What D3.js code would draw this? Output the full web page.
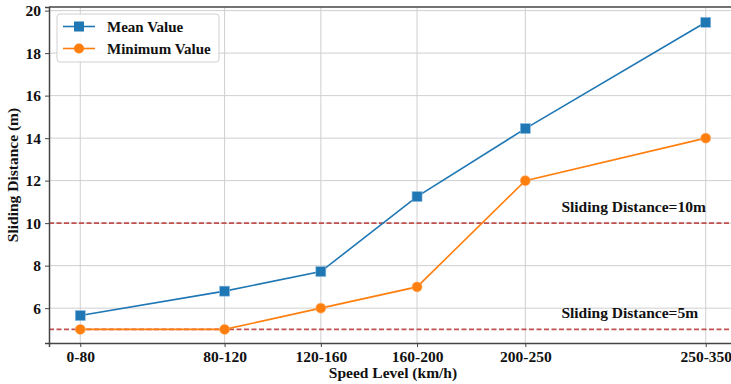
<!DOCTYPE html>
<html>
<head>
<meta charset="utf-8">
<script src="https://cdn.jsdelivr.net/npm/d3@7"></script>
<style>
  body { margin: 0; background: #fff; }
  svg { display: block; font-family: "Liberation Serif", "Times New Roman", serif; font-weight: bold; }
</style>
</head>
<body>
<svg id="chart"></svg>
<script>
// speed bands, placed at their midpoints
const categories = ['0-80', '80-120', '120-160', '160-200', '200-250', '250-350'];
const midpoints = [40, 100, 140, 180, 225, 300];
const meanValues = [5.65, 6.8, 7.72, 11.25, 14.45, 19.45];
const minValues = [5, 5, 6, 7, 12, 14];
const yTicks = [6, 8, 10, 12, 14, 16, 18, 20];
const refLines = [
  { value: 10, label: 'Sliding Distance=10m' },
  { value: 5, label: 'Sliding Distance=5m' }
];

const width = 731, height = 384;
const margin = { top: 7, right: -6, bottom: 41, left: 49 };

const svg = d3.select('#chart').attr('width', width).attr('height', height);

const x = d3.scaleLinear()
  .domain([27, 313])
  .range([margin.left, width - margin.right]);

const y = d3.scaleLinear()
  .domain([4.36, 20.17])
  .range([height - margin.bottom, margin.top]);

const plot = svg.append('g');

// grid
plot.append('g').selectAll('line').data(yTicks).join('line')
  .attr('x1', margin.left).attr('x2', width - margin.right)
  .attr('y1', d => y(d)).attr('y2', d => y(d))
  .attr('stroke', '#cfcfcf').attr('stroke-width', 1);
plot.append('g').selectAll('line').data(midpoints).join('line')
  .attr('x1', d => x(d)).attr('x2', d => x(d))
  .attr('y1', margin.top).attr('y2', height - margin.bottom)
  .attr('stroke', '#cfcfcf').attr('stroke-width', 1);

// reference lines
refLines.forEach(r => {
  plot.append('line')
    .attr('x1', margin.left).attr('x2', width - margin.right)
    .attr('y1', y(r.value)).attr('y2', y(r.value))
    .attr('stroke', '#c0504d').attr('stroke-width', 1.6)
    .attr('stroke-dasharray', '5,2.5');
  plot.append('text')
    .attr('x', x(240)).attr('y', y(r.value) - 11)
    .attr('font-size', 15.5).attr('fill', '#111')
    .text(r.label);
});

// axes
const xAxis = g => g
  .attr('transform', `translate(0,${height - margin.bottom})`)
  .call(d3.axisBottom(x).tickValues(midpoints).tickFormat((d, i) => categories[i]).tickSize(4).tickPadding(4))
  .call(g => g.select('.domain').attr('stroke', '#444').attr('stroke-width', 1.5));

const yAxis = g => g
  .attr('transform', `translate(${margin.left},0)`)
  .call(d3.axisLeft(y).tickValues(yTicks).tickSize(4).tickPadding(4))
  .call(g => g.select('.domain').attr('stroke', '#444').attr('stroke-width', 1.5));

svg.append('g').call(xAxis);
svg.append('g').call(yAxis);
svg.selectAll('.tick text').attr('font-size', 15.5).attr('fill', '#111')
  .attr('font-family', '"Liberation Serif", serif').attr('font-weight', 'bold');
svg.selectAll('.tick line').attr('stroke', '#444');

// top spine
svg.append('line')
  .attr('x1', margin.left).attr('x2', width)
  .attr('y1', margin.top).attr('y2', margin.top)
  .attr('stroke', '#444').attr('stroke-width', 1.5);

// series
const line = d3.line().x((d, i) => x(midpoints[i])).y(d => y(d));

plot.append('path').datum(minValues)
  .attr('fill', 'none').attr('stroke', '#ff7f0e').attr('stroke-width', 1.6)
  .attr('d', line);
plot.append('g').selectAll('circle').data(minValues).join('circle')
  .attr('cx', (d, i) => x(midpoints[i])).attr('cy', d => y(d)).attr('r', 5)
  .attr('fill', '#ff7f0e').attr('stroke', '#ffb070').attr('stroke-width', 0.6);

plot.append('path').datum(meanValues)
  .attr('fill', 'none').attr('stroke', '#1f77b4').attr('stroke-width', 1.6)
  .attr('d', line);
plot.append('g').selectAll('rect').data(meanValues).join('rect')
  .attr('x', (d, i) => x(midpoints[i]) - 5).attr('y', d => y(d) - 5)
  .attr('width', 10).attr('height', 10)
  .attr('fill', '#1f77b4').attr('stroke', '#8fbce0').attr('stroke-width', 0.6);

// axis titles
svg.append('text')
  .attr('x', (margin.left + 737) / 2).attr('y', 378)
  .attr('text-anchor', 'middle').attr('font-size', 15.5).attr('fill', '#111')
  .text('Speed Level (km/h)');
svg.append('text')
  .attr('transform', `translate(18,${(margin.top + height - margin.bottom) / 2}) rotate(-90)`)
  .attr('text-anchor', 'middle').attr('font-size', 15.5).attr('fill', '#111')
  .text('Sliding Distance (m)');

// legend
const legend = svg.append('g').attr('transform', 'translate(57,14)');
legend.append('rect')
  .attr('width', 162).attr('height', 48).attr('rx', 3)
  .attr('fill', '#fff').attr('fill-opacity', 0.85)
  .attr('stroke', '#d0d0d0').attr('stroke-width', 1);
const legendItems = [
  { label: 'Mean Value', color: '#1f77b4', shape: 'square', y: 12.5 },
  { label: 'Minimum Value', color: '#ff7f0e', shape: 'circle', y: 34.5 }
];
legendItems.forEach(it => {
  legend.append('line')
    .attr('x1', 6).attr('x2', 38).attr('y1', it.y).attr('y2', it.y)
    .attr('stroke', it.color).attr('stroke-width', 1.6);
  if (it.shape === 'square') {
    legend.append('rect').attr('x', 17).attr('y', it.y - 5).attr('width', 10).attr('height', 10)
      .attr('fill', it.color);
  } else {
    legend.append('circle').attr('cx', 22).attr('cy', it.y).attr('r', 5).attr('fill', it.color);
  }
  legend.append('text')
    .attr('x', 50).attr('y', it.y + 5)
    .attr('font-size', 15).attr('fill', '#111')
    .text(it.label);
});
</script>
</body>
</html>
